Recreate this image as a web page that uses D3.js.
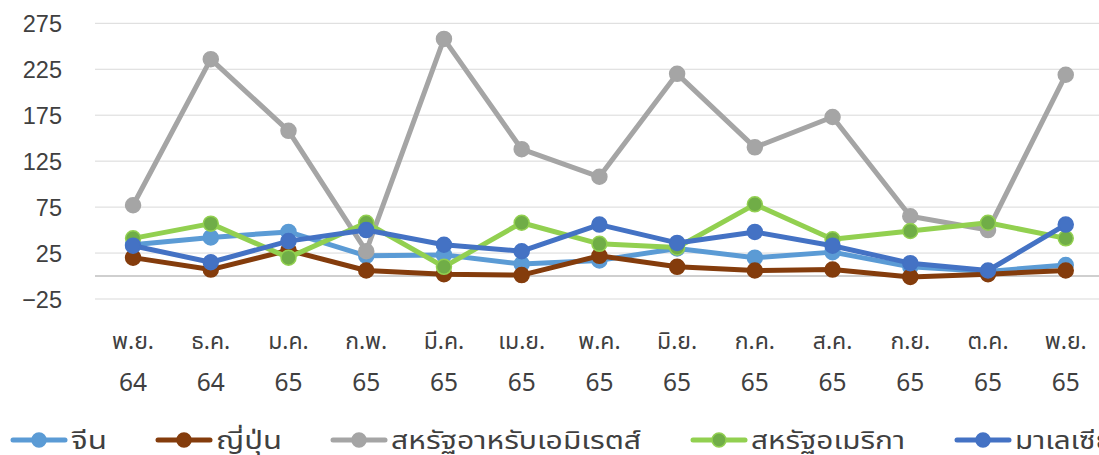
<!DOCTYPE html>
<html>
<head>
<meta charset="utf-8">
<script src="https://cdn.jsdelivr.net/npm/d3@7/dist/d3.min.js"></script>
<style>
  html, body { margin: 0; padding: 0; background: #ffffff; }
  svg { display: block; font-family: "Noto Sans", "Noto Sans Thai", "DejaVu Sans", sans-serif; }
</style>
</head>
<body>
<svg id="chart" width="1099" height="455"></svg>
<script>
const months = ["พ.ย.", "ธ.ค.", "ม.ค.", "ก.พ.", "มี.ค.", "เม.ย.", "พ.ค.", "มิ.ย.", "ก.ค.", "ส.ค.", "ก.ย.", "ต.ค.", "พ.ย."];
const years  = ["64", "64", "65", "65", "65", "65", "65", "65", "65", "65", "65", "65", "65"];
const yTicks = [-25, 25, 75, 125, 175, 225, 275];

const seriesNames = ["จีน", "ญี่ปุ่น", "สหรัฐอาหรับเอมิเรตส์", "สหรัฐอเมริกา", "มาเลเซีย"];
const china    = [34, 42, 48, 22, 23, 13, 17, 30, 20, 26, 10, 5, 12];
const japan    = [20, 7, 28, 6, 2, 1, 22, 10, 6, 7, -1, 2, 6];
const uae      = [77, 236, 158, 27, 258, 138, 108, 220, 140, 173, 65, 50, 219];
const usa      = [41, 57, 20, 58, 10, 58, 35, 31, 78, 40, 49, 58, 41];
const malaysia = [33, 15, 38, 50, 34, 27, 56, 36, 48, 33, 14, 6, 56];

const lineColors   = ["#5B9BD5", "#843C0C", "#A5A5A5", "#92D050", "#4472C4"];
const markerFills  = ["#5B9BD5", "#843C0C", "#A5A5A5", "#70AD47", "#4472C4"];
const markerStroke = ["#5B9BD5", "#843C0C", "#A5A5A5", "#92D050", "#4472C4"];

const allSeries = [china, japan, uae, usa, malaysia];

const svg = d3.select("#chart");
const idx = d3.range(months.length);

const x = d3.scaleBand().domain(idx).range([94.2, 1104.6]).padding(0);
const cx = i => x(i) + x.bandwidth() / 2;
const y = d3.scaleLinear().domain([-25, 275]).range([299, 23.3]);

const textColor = "#404040";

// gridlines
const grid = svg.append("g");
grid.selectAll("line.grid").data(yTicks).enter().append("line")
  .attr("x1", 95).attr("x2", 1099)
  .attr("y1", d => y(d)).attr("y2", d => y(d))
  .attr("stroke", "#d9d9d9").attr("stroke-width", 1);
// zero axis line
grid.append("line")
  .attr("x1", 95).attr("x2", 1099)
  .attr("y1", y(0)).attr("y2", y(0))
  .attr("stroke", "#bfbfbf").attr("stroke-width", 1.5);

// y axis labels
const yAxis = d3.axisLeft(y).tickValues(yTicks).tickSize(0).tickPadding(0)
  .tickFormat(d => d < 0 ? "\u2212" + Math.abs(d) : d);
const yg = svg.append("g").attr("transform", "translate(62,0)").call(yAxis);
yg.select(".domain").remove();
yg.selectAll("text").attr("fill", textColor).style("font-size", "23.5px")
  .attr("dy", "0.35em").attr("x", 0);

// x axis labels
const xg = svg.append("g");
xg.selectAll("text.m").data(idx).enter().append("text")
  .attr("x", i => cx(i)).attr("y", 340)
  .attr("text-anchor", "middle").attr("dominant-baseline", "central")
  .attr("fill", textColor).style("font-size", "23px")
  .text(i => months[i]);
xg.selectAll("text.yr").data(idx).enter().append("text")
  .attr("x", i => cx(i)).attr("y", 381)
  .attr("text-anchor", "middle").attr("dominant-baseline", "central")
  .attr("fill", textColor).style("font-size", "24.5px")
  .text(i => years[i]);

// series
const line = d3.line().x((d, i) => cx(i)).y(d => y(d));
allSeries.forEach((vals, s) => {
  const g = svg.append("g");
  g.append("path").datum(vals)
    .attr("d", line)
    .attr("fill", "none")
    .attr("stroke", lineColors[s])
    .attr("stroke-width", 5)
    .attr("stroke-linejoin", "round")
    .attr("stroke-linecap", "round");
  g.selectAll("circle").data(vals).enter().append("circle")
    .attr("cx", (d, i) => cx(i)).attr("cy", d => y(d))
    .attr("r", 7.5)
    .attr("fill", markerFills[s])
    .attr("stroke", markerStroke[s])
    .attr("stroke-width", 1.5);
});

// legend
const legendX = [13, 158, 333, 693, 957];
const legendW = [36, 66, 250, 154, 98];
const legend = svg.append("g");
seriesNames.forEach((name, s) => {
  const lx = legendX[s];
  const ly = 440;
  legend.append("line")
    .attr("x1", lx).attr("x2", lx + 52).attr("y1", ly).attr("y2", ly)
    .attr("stroke", lineColors[s]).attr("stroke-width", 5).attr("stroke-linecap", "round");
  legend.append("circle")
    .attr("cx", lx + 26).attr("cy", ly).attr("r", 7)
    .attr("fill", markerFills[s]).attr("stroke", markerStroke[s]).attr("stroke-width", 1.5);
  legend.append("text")
    .attr("x", lx + 58).attr("y", ly - 1)
    .attr("dominant-baseline", "central")
    .attr("fill", textColor).style("font-size", "24px")
    .attr("textLength", legendW[s]).attr("lengthAdjust", "spacingAndGlyphs")
    .text(name);
});
</script>
</body>
</html>
